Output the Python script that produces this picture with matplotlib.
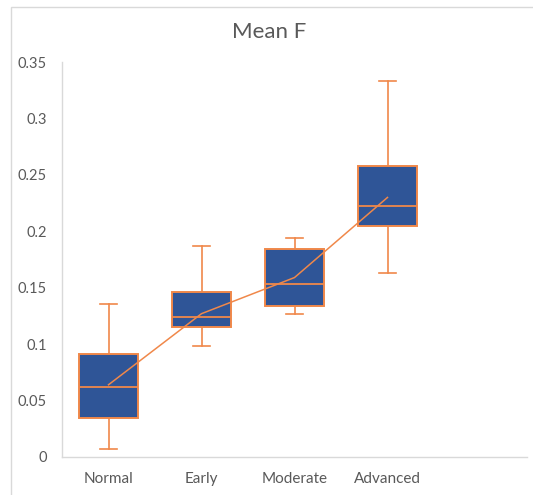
import matplotlib.pyplot as plt
from matplotlib.patches import Rectangle

plt.rcParams['font.family'] = ['Lato', 'DejaVu Sans']

groups = ['Normal', 'Early', 'Moderate', 'Advanced']
whisker_low = [0.007, 0.098, 0.127, 0.163]
q1 = [0.035, 0.115, 0.134, 0.205]
median = [0.062, 0.124, 0.153, 0.222]
q3 = [0.091, 0.146, 0.184, 0.258]
whisker_high = [0.136, 0.187, 0.194, 0.333]
means = [0.064, 0.127, 0.159, 0.230]

blue = '#2F5597'
orange = '#F0884A'
grey_text = '#595959'
axis_grey = '#D9D9D9'

stats = []
for i in range(len(groups)):
    stats.append({'label': groups[i], 'whislo': whisker_low[i], 'q1': q1[i],
                  'med': median[i], 'q3': q3[i], 'whishi': whisker_high[i],
                  'mean': means[i], 'fliers': []})

fig = plt.figure(figsize=(5.33, 4.95), dpi=100)
# chart border
fig.patches.append(Rectangle((11/533, -0.1), 1.2, 1.1 - 7/495,
                             transform=fig.transFigure, fill=False,
                             edgecolor=axis_grey, linewidth=1.0))
ax = fig.add_axes([62/533, 1 - 457/495, (527 - 62)/533, (457 - 62)/495])

pos = list(range(len(groups)))
ax.bxp(stats, positions=pos, widths=0.63, capwidths=0.18, patch_artist=True,
       showmeans=False,
       boxprops=dict(facecolor=blue, edgecolor=orange, linewidth=1.4),
       medianprops=dict(color=orange, linewidth=1.3),
       whiskerprops=dict(color=orange, linewidth=1.2),
       capprops=dict(color=orange, linewidth=1.2))
ax.plot(pos, means, color=orange, linewidth=1.1, zorder=5)

ax.set_xlim(-0.5, 4.5)
ax.set_ylim(0, 0.35)
ax.set_yticks([0, 0.05, 0.1, 0.15, 0.2, 0.25, 0.3, 0.35])
ax.set_yticklabels(['0', '0.05', '0.1', '0.15', '0.2', '0.25', '0.3', '0.35'])
ax.set_xticks(pos)
ax.set_xticklabels(groups)
ax.tick_params(axis='both', length=0, colors=grey_text)
ax.tick_params(axis='y', pad=11, labelsize=10.5)
ax.tick_params(axis='x', pad=11, labelsize=11)
for s in ['top', 'right']:
    ax.spines[s].set_visible(False)
for s in ['left', 'bottom']:
    ax.spines[s].set_color(axis_grey)
    ax.spines[s].set_linewidth(1.0)

fig.text(0.505, 1 - 32/495, 'Mean F', ha='center', va='center',
         fontsize=16, color=grey_text)

fig.savefig('out.png', dpi=100)
